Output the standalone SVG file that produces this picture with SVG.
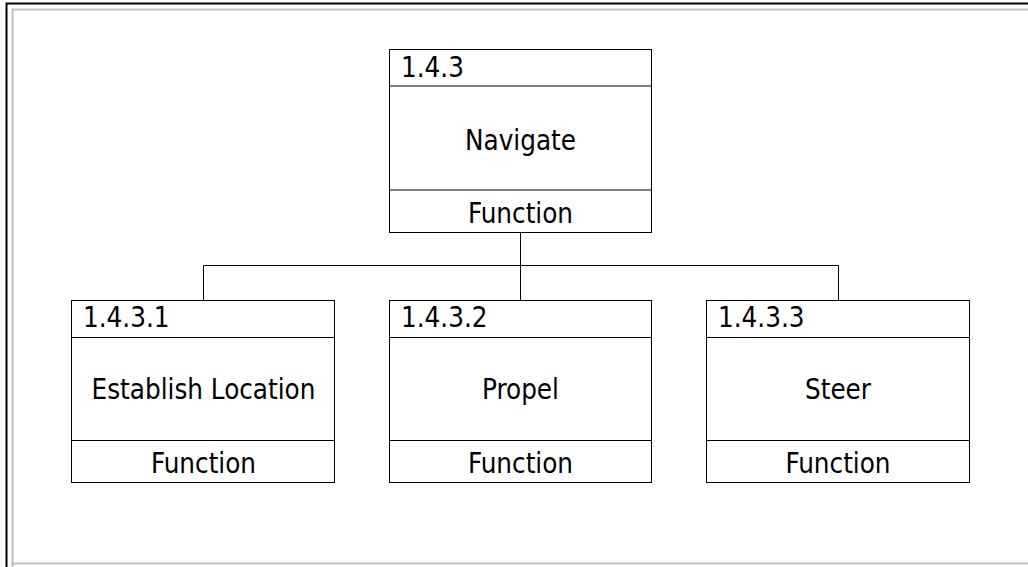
<svg xmlns="http://www.w3.org/2000/svg" width="1028" height="567" viewBox="0 0 1028 567">
<style>
.box{fill:#fff;stroke:#000;stroke-width:1}
.div{stroke:#000;stroke-width:1}
.conn{fill:none;stroke:#000;stroke-width:1}
text{font-family:"DejaVu Sans Condensed","DejaVu Sans",sans-serif;font-stretch:condensed;font-size:27.5px;fill:#000}
.c{text-anchor:middle}
</style>
<rect x="0" y="0" width="1028" height="567" fill="#fff"/>
<g id="frame">
<path d="M6.5,570 V3.5 H1040" fill="none" stroke="#000" stroke-width="2"/>
<path d="M12.5,570 V9.5 H1040 M12.5,563.5 H1040" fill="none" stroke="#c0c0c0" stroke-width="2"/>
</g>
<g id="connectors">
<path class="conn" d="M520.5,232 V265.5 M203.5,300 V265.5 H838.5 V300 M520.5,265.5 V300"/>
</g>
<g id="n143">
<rect class="box" x="389.5" y="49.5" width="262" height="183"/>
<line class="div" x1="389.5" y1="86" x2="651.5" y2="86"/>
<line class="div" x1="389.5" y1="190" x2="651.5" y2="190"/>
<text x="401" y="77">1.4.3</text>
<text class="c" x="520.5" y="150">Navigate</text>
<text class="c" x="520.5" y="223">Function</text>
</g>
<g id="n1431">
<rect class="box" x="71.5" y="300.5" width="263" height="182"/>
<line class="div" x1="71.5" y1="337.5" x2="334.5" y2="337.5"/>
<line class="div" x1="71.5" y1="440.5" x2="334.5" y2="440.5"/>
<text x="83" y="327">1.4.3.1</text>
<text class="c" x="203.5" y="399">Establish Location</text>
<text class="c" x="203.5" y="473">Function</text>
</g>
<g id="n1432">
<rect class="box" x="389.5" y="300.5" width="262" height="182"/>
<line class="div" x1="389.5" y1="337.5" x2="651.5" y2="337.5"/>
<line class="div" x1="389.5" y1="440.5" x2="651.5" y2="440.5"/>
<text x="401" y="327">1.4.3.2</text>
<text class="c" x="520.5" y="399">Propel</text>
<text class="c" x="520.5" y="473">Function</text>
</g>
<g id="n1433">
<rect class="box" x="706.5" y="300.5" width="263" height="182"/>
<line class="div" x1="706.5" y1="337.5" x2="969.5" y2="337.5"/>
<line class="div" x1="706.5" y1="440.5" x2="969.5" y2="440.5"/>
<text x="718" y="327">1.4.3.3</text>
<text class="c" x="838" y="399">Steer</text>
<text class="c" x="838" y="473">Function</text>
</g>
</svg>
